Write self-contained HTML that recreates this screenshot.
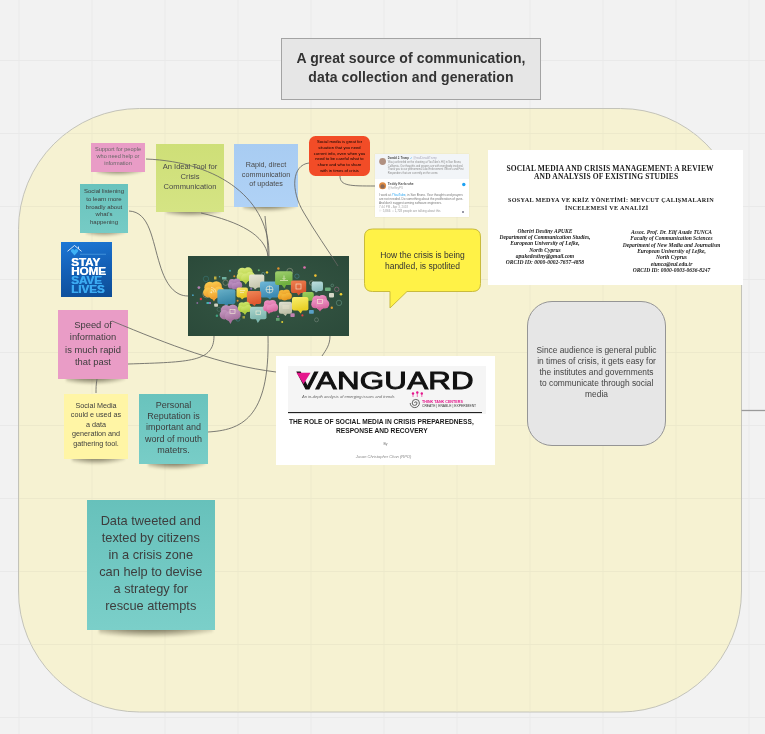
<!DOCTYPE html>
<html><head><meta charset="utf-8">
<style>
*{margin:0;padding:0;box-sizing:border-box}
html,body{width:765px;height:734px;overflow:hidden;background:#f2f2f2;font-family:"Liberation Sans",sans-serif}
body{will-change:transform}
.abs{position:absolute}
</style></head><body>
<svg class="abs" style="left:0;top:0" width="765" height="734">
  <defs>
    <pattern id="g" x="18.5" y="60" width="73" height="73" patternUnits="userSpaceOnUse">
      <rect x="-0.5" y="0" width="1.3" height="73" fill="#e8e8e8"/>
      <rect x="0" y="-0.5" width="73" height="1.3" fill="#e8e8e8"/>
    </pattern>
    <pattern id="gy" x="18.5" y="60" width="73" height="73" patternUnits="userSpaceOnUse">
      <rect x="-0.5" y="0" width="1.3" height="73" fill="#ebe8c9"/>
      <rect x="0" y="-0.5" width="73" height="1.3" fill="#ebe8c9"/>
    </pattern>
  </defs>
  <rect width="765" height="734" fill="url(#g)"/>
  <rect x="18.5" y="108.5" width="723" height="603.5" rx="121" ry="121" fill="#f6f2d2" stroke="#bdbdb4" stroke-width="0.9"/>
  <rect x="19" y="109" width="722" height="602.5" rx="120" ry="120" fill="url(#gy)"/>
  <line x1="741.5" y1="410.5" x2="765" y2="410.5" stroke="#9a9a9a" stroke-width="1.3"/>
</svg>

<div class="abs" style="left:281px;top:38px;width:260px;height:62px;background:#e6e6e6;border:1px solid #a3a3a3;display:flex;align-items:center;justify-content:center;text-align:center;font-weight:bold;font-size:14px;letter-spacing:0.1px;line-height:19px;color:#333"><div style="position:relative;top:-1px">A great source of communication,<br>data collection and generation</div></div>
<div class="abs" style="left:97px;top:167px;width:46px;height:9px;background:radial-gradient(ellipse 70% 100% at 45% 0%,rgba(40,35,15,0.75),rgba(40,35,15,0.44999999999999996) 50%,rgba(40,35,15,0) 100%);filter:blur(1.3px)"></div><div class="abs" style="left:91px;top:143px;width:54px;height:29px;background:#e99cc6;display:flex;align-items:center;justify-content:center;text-align:center;color:#666;font-size:5.6px;line-height:7.3px"><div style="position:relative;top:-1px">Support for people<br>who need help or<br>information</div></div>
<div class="abs" style="left:86px;top:228px;width:40px;height:9px;background:radial-gradient(ellipse 70% 100% at 45% 0%,rgba(40,35,15,0.7),rgba(40,35,15,0.42) 50%,rgba(40,35,15,0) 100%);filter:blur(1.3px)"></div><div class="abs" style="left:80px;top:184px;width:48px;height:49px;background:linear-gradient(180deg,#69c3bd,#76cbc5);display:flex;align-items:center;justify-content:center;text-align:center;color:#3d3d3d;font-size:6px;line-height:7.7px"><div style="position:relative;top:-1px">Social listening<br>to learn more<br>broadly about<br>what's<br>happening</div></div>
<div class="abs" style="left:166px;top:207px;width:55px;height:10px;background:radial-gradient(ellipse 70% 100% at 45% 0%,rgba(40,35,15,0.8),rgba(40,35,15,0.48) 50%,rgba(40,35,15,0) 100%);filter:blur(1.3px)"></div><div class="abs" style="left:156px;top:144px;width:68px;height:68px;background:linear-gradient(180deg,#cedf77,#d5e484);display:flex;align-items:center;justify-content:center;text-align:center;color:#4a4a4a;font-size:7.6px;line-height:10px"><div style="position:relative;top:-1.5px">An Ideal Tool for<br>Crisis<br>Communication</div></div>
<div class="abs" style="left:243px;top:202px;width:53px;height:10px;background:radial-gradient(ellipse 70% 100% at 45% 0%,rgba(40,35,15,0.8),rgba(40,35,15,0.48) 50%,rgba(40,35,15,0) 100%);filter:blur(1.3px)"></div><div class="abs" style="left:234px;top:144px;width:64px;height:63px;background:linear-gradient(180deg,#a8ccf2,#b0d2f6);display:flex;align-items:center;justify-content:center;text-align:center;color:#4a4a4a;font-size:7.2px;line-height:9.5px"><div style="position:relative;top:-1px">Rapid, direct<br>communication<br>of updates</div></div>
<div class="abs" style="left:66px;top:374px;width:59px;height:11px;background:radial-gradient(ellipse 70% 100% at 45% 0%,rgba(40,35,15,0.8),rgba(40,35,15,0.48) 50%,rgba(40,35,15,0) 100%);filter:blur(1.3px)"></div><div class="abs" style="left:58px;top:310px;width:70px;height:69px;background:#e99cc6;display:flex;align-items:center;justify-content:center;text-align:center;color:#3d3d3d;font-size:9.4px;line-height:12.4px"><div style="position:relative;top:-1px">Speed of<br>information<br>is much rapid<br>that past</div></div>
<div class="abs" style="left:72px;top:454px;width:53px;height:11px;background:radial-gradient(ellipse 70% 100% at 45% 0%,rgba(40,35,15,0.75),rgba(40,35,15,0.44999999999999996) 50%,rgba(40,35,15,0) 100%);filter:blur(1.3px)"></div><div class="abs" style="left:64px;top:394px;width:64px;height:65px;background:#fff5a5;display:flex;align-items:center;justify-content:center;text-align:center;color:#3d3d3d;font-size:7.2px;line-height:9.6px"><div style="position:relative;top:-2px">Social Media<br>could e used as<br>a data<br>generation and<br>gathering tool.</div></div>
<div class="abs" style="left:148px;top:459px;width:57px;height:11px;background:radial-gradient(ellipse 70% 100% at 45% 0%,rgba(40,35,15,0.8),rgba(40,35,15,0.48) 50%,rgba(40,35,15,0) 100%);filter:blur(1.3px)"></div><div class="abs" style="left:139px;top:394px;width:69px;height:70px;background:linear-gradient(180deg,#69c3bd,#78cdc7);display:flex;align-items:center;justify-content:center;text-align:center;color:#3d3d3d;font-size:9px;line-height:11.2px"><div style="position:relative;top:-1px">Personal<br>Reputation is<br>important and<br>word of mouth<br>matetrs.</div></div>
<div class="abs" style="left:98.8px;top:625px;width:114px;height:13px;background:radial-gradient(ellipse 70% 100% at 45% 0%,rgba(40,35,15,0.75),rgba(40,35,15,0.44999999999999996) 50%,rgba(40,35,15,0) 100%);filter:blur(1.3px)"></div><div class="abs" style="left:86.8px;top:500px;width:128px;height:130px;background:linear-gradient(180deg,#67c1bb,#7bcfc9);display:flex;align-items:center;justify-content:center;text-align:center;color:#3d3d3d;font-size:12.8px;line-height:17px"><div style="position:relative;top:-2.5px">Data tweeted and<br>texted by citizens<br>in a crisis zone<br>can help to devise<br>a strategy for<br>rescue attempts</div></div>
<div class="abs" style="left:309px;top:136px;width:61px;height:39.5px;background:#f24c27;border-radius:6.5px;font-size:4.1px;line-height:5.8px;text-align:center;color:#000;padding-top:3px;letter-spacing:0.05px">Social media is great for<br>situation that you need<br>current info, even when you<br>need to be careful what to<br>share and who to share<br>with in times of crisis</div>
<!-- callout -->
<svg class="abs" style="left:0;top:0" width="765" height="734">
  <path d="M372.5,229 H472.5 Q480.5,229 480.5,237 V283.5 Q480.5,291.5 472.5,291.5 H407 L390,308 V291.5 H372.5 Q364.5,291.5 364.5,283.5 V237 Q364.5,229 372.5,229 Z" fill="#fff247" stroke="#c9bb3c" stroke-width="1"/>
</svg>
<div class="abs" style="left:364px;top:229px;width:117px;height:63px;display:flex;align-items:center;justify-content:center;text-align:center;font-size:8.5px;line-height:10.8px;color:#333">How the crisis is being<br>handled, is spotlited</div>

<!-- gray rounded -->
<div class="abs" style="left:527px;top:301px;width:139px;height:145px;background:#e6e6e6;border:1px solid #959595;border-radius:25px;display:flex;align-items:center;justify-content:center;text-align:center;font-size:8.4px;line-height:11.1px;color:#444;padding-bottom:2px">Since audience is general public<br>in times of crisis, it gets easy for<br>the institutes and governments<br>to communicate through social<br>media</div>



<!-- central image -->
<svg class="abs" style="left:188px;top:256px" width="161" height="80" viewBox="0 0 161 80">
  <defs>
    <radialGradient id="cg" cx="50%" cy="50%" r="70%">
      <stop offset="0" stop-color="#365744"/><stop offset="1" stop-color="#2b4a3a"/>
    </radialGradient>
    <filter id="bl"><feGaussianBlur stdDeviation="0.3"/></filter><filter id="bl2"><feGaussianBlur stdDeviation="0.3"/></filter>
    <linearGradient id="c490_109" x1="0" y1="0" x2="0.3" y2="1"><stop offset="0" stop-color="#dcec80"/><stop offset="1" stop-color="#b8d448"/></linearGradient><linearGradient id="g610_185" x1="0" y1="0" x2="0.3" y2="1"><stop offset="0" stop-color="#e8e8d8"/><stop offset="1" stop-color="#c8c8b0"/></linearGradient><linearGradient id="c398_223" x1="0" y1="0" x2="0.3" y2="1"><stop offset="0" stop-color="#c094c4"/><stop offset="1" stop-color="#a070a6"/></linearGradient><linearGradient id="c158_248" x1="0" y1="0" x2="0.3" y2="1"><stop offset="0" stop-color="#fcd050"/><stop offset="1" stop-color="#f0a030"/></linearGradient><linearGradient id="g720_256" x1="0" y1="0" x2="0.3" y2="1"><stop offset="0" stop-color="#70b8d8"/><stop offset="1" stop-color="#3e8cb4"/></linearGradient><linearGradient id="g294_332" x1="0" y1="0" x2="0.3" y2="1"><stop offset="0" stop-color="#68b0c8"/><stop offset="1" stop-color="#3a88a8"/></linearGradient><linearGradient id="g485_316" x1="0" y1="0" x2="0.3" y2="1"><stop offset="0" stop-color="#f8e868"/><stop offset="1" stop-color="#e8c828"/></linearGradient><linearGradient id="g589_350" x1="0" y1="0" x2="0.3" y2="1"><stop offset="0" stop-color="#f08858"/><stop offset="1" stop-color="#e05a30"/></linearGradient><linearGradient id="c496_456" x1="0" y1="0" x2="0.3" y2="1"><stop offset="0" stop-color="#d0e870"/><stop offset="1" stop-color="#b0d040"/></linearGradient><linearGradient id="c316_480" x1="0" y1="0" x2="0.3" y2="1"><stop offset="0" stop-color="#c89cc4"/><stop offset="1" stop-color="#a6729e"/></linearGradient><linearGradient id="g620_507" x1="0" y1="0" x2="0.3" y2="1"><stop offset="0" stop-color="#b0d8d0"/><stop offset="1" stop-color="#80b8b0"/></linearGradient><linearGradient id="g871_153" x1="0" y1="0" x2="0.3" y2="1"><stop offset="0" stop-color="#a0d070"/><stop offset="1" stop-color="#70b040"/></linearGradient><linearGradient id="g1029_245" x1="0" y1="0" x2="0.3" y2="1"><stop offset="0" stop-color="#f08050"/><stop offset="1" stop-color="#d85830"/></linearGradient><linearGradient id="g1236_256" x1="0" y1="0" x2="0.3" y2="1"><stop offset="0" stop-color="#c0e0e0"/><stop offset="1" stop-color="#90c0c0"/></linearGradient><linearGradient id="c898_333" x1="0" y1="0" x2="0.3" y2="1"><stop offset="0" stop-color="#f8c040"/><stop offset="1" stop-color="#e89820"/></linearGradient><linearGradient id="g1144_360" x1="0" y1="0" x2="0.3" y2="1"><stop offset="0" stop-color="#a0d060"/><stop offset="1" stop-color="#78b840"/></linearGradient><linearGradient id="g1040_409" x1="0" y1="0" x2="0.3" y2="1"><stop offset="0" stop-color="#f8f070"/><stop offset="1" stop-color="#e8d028"/></linearGradient><linearGradient id="c755_436" x1="0" y1="0" x2="0.3" y2="1"><stop offset="0" stop-color="#f098c8"/><stop offset="1" stop-color="#d86aa0"/></linearGradient><linearGradient id="g909_458" x1="0" y1="0" x2="0.3" y2="1"><stop offset="0" stop-color="#e0e0d0"/><stop offset="1" stop-color="#c0c0a8"/></linearGradient><linearGradient id="c1236_387" x1="0" y1="0" x2="0.3" y2="1"><stop offset="0" stop-color="#f098c8"/><stop offset="1" stop-color="#d868a0"/></linearGradient>
  </defs>
  <rect width="161" height="80" fill="url(#cg)"/>
  <g filter="url(#bl)">
  
<circle cx="116.5" cy="11.5" r="1.3" fill="#e070b0"/>
<circle cx="127.4" cy="19.6" r="1.3" fill="#f0c030"/>
<circle cx="153" cy="38.2" r="1.3" fill="#f0d030"/>
<circle cx="94.2" cy="66" r="1" fill="#e0d030"/>
<circle cx="90.4" cy="12.5" r="1.2" fill="#e09030"/>
<circle cx="143.8" cy="51.8" r="1.2" fill="#e0a030"/>
<rect x="137" y="31.6" width="5.7" height="3.4" rx=".8" fill="#70b080"/>
<rect x="141" y="37" width="5" height="4.4" rx=".8" fill="#d8d8c8"/>
<rect x="121" y="54" width="4.8" height="3.8" rx=".8" fill="#5aa0c8"/>
<rect x="102.4" y="57.2" width="4.3" height="3.8" rx=".8" fill="#c080b0"/>
<circle cx="114.4" cy="59.4" r="1.1" fill="#e04040"/>
<rect x="88" y="62" width="3.6" height="2.8" fill="#60a070"/>
<circle cx="90" cy="60.5" r="1" fill="#a070a0"/>
<circle cx="131" cy="30" r="1" fill="#80a0a0"/>
<g fill="none" stroke="#6a9a88" stroke-width=".55">
<circle cx="151" cy="46.9" r="2.7"/><circle cx="148.7" cy="33.3" r="2.2" stroke="#b07090"/><circle cx="108.9" cy="20.2" r="2.2" stroke="#4a8a9a"/>
<circle cx="101.8" cy="15.3" r="3" stroke="#a0a090"/><circle cx="128.5" cy="63.8" r="2" stroke="#7a8a80"/><circle cx="144.3" cy="29.4" r="1.3"/>
<circle cx="123.6" cy="27" r="2.2" stroke="#a0a090"/>
<circle cx="18" cy="22.9" r="2.7" stroke="#3a7a7a"/><circle cx="18.5" cy="38" r="3.8" stroke="#a09a80"/><circle cx="37.6" cy="26.7" r="2.7" stroke="#a09a80"/>
<circle cx="31" cy="53.4" r="2" stroke="#5a7a70"/><circle cx="50" cy="63.2" r="2" stroke="#4a8a9a"/><circle cx="75.2" cy="18" r="1.6" stroke="#6a9aa0"/>
</g>
<circle cx="10.9" cy="31.6" r="1.4" fill="#b080b0"/>
<circle cx="4.9" cy="39.2" r="0.9" fill="#4aa0c0"/>
<circle cx="12.9" cy="43" r="1.2" fill="#e04040"/>
<circle cx="9.3" cy="47" r="0.9" fill="#8a6a9a"/>
<rect x="18.5" y="46" width="2.5" height="2" fill="#40b0b0"/><rect x="21" y="46" width="2" height="2" fill="#9070c0"/>
<rect x="26.2" y="47.4" width="3.8" height="3.3" rx=".8" fill="#d0d0c0"/>
<rect x="26" y="20.5" width="2.5" height="3" fill="#c0b040"/>
<rect x="34" y="21" width="4.5" height="2.5" fill="#70b0a0"/>
<circle cx="31.6" cy="20.7" r=".8" fill="#50a0b0"/><circle cx="42" cy="14.7" r="1" fill="#40a0a0"/>
<circle cx="46.3" cy="20.2" r="1" fill="#e09030"/><circle cx="70.8" cy="14.2" r="1" fill="#60b070"/>
<circle cx="79" cy="16.4" r="1.2" fill="#f0d030"/><circle cx="63.2" cy="32.7" r="1" fill="#9070c0"/>
<circle cx="49.6" cy="44.7" r="1" fill="#e09030"/><circle cx="28.9" cy="59.7" r="1.2" fill="#40a080"/>
<rect x="54.5" y="60" width="2.5" height="2.5" fill="#a0a040"/>

  <g fill="url(#c490_109)"><ellipse cx="57.9" cy="19.6" rx="7.4" ry="5.7"/><circle cx="54.3" cy="16.4" r="4.7"/><circle cx="60.0" cy="16.0" r="4.7"/><circle cx="52.9" cy="20.7" r="4.3"/><circle cx="62.3" cy="20.4" r="4.7"/><circle cx="57.5" cy="22.0" r="4.4"/></g><path d="M54.8,24.2 L57.8,28.5 L60.3,24.2Z" fill="#b8d448"/><rect x="61" y="18.5" width="15.3" height="13.1" rx="2" fill="url(#g610_185)"/><path d="M65.0,31.1 L67,33.5 L70.0,31.1Z" fill="#c8c8b0"/><g fill="url(#c398_223)"><ellipse cx="47.1" cy="28.6" rx="6.2" ry="4.1"/><circle cx="44.2" cy="26.3" r="3.4"/><circle cx="48.9" cy="26.0" r="3.4"/><circle cx="43.0" cy="29.4" r="3.1"/><circle cx="50.8" cy="29.2" r="3.4"/><circle cx="46.9" cy="30.3" r="3.2"/></g><path d="M47.0,31.299999999999997 L50,35 L52.5,31.299999999999997Z" fill="#a070a6"/><g fill="url(#c158_248)"><ellipse cx="25.9" cy="35.1" rx="8.5" ry="6.8"/><circle cx="21.9" cy="31.4" r="5.6"/><circle cx="28.3" cy="30.8" r="5.6"/><circle cx="20.2" cy="36.5" r="5.1"/><circle cx="30.9" cy="36.1" r="5.6"/><circle cx="25.5" cy="38.0" r="5.3"/></g><path d="M23.0,41.1 L26,45.5 L28.5,41.1Z" fill="#f0a030"/><rect x="72" y="25.6" width="19.0" height="15.8" rx="2" fill="url(#g720_256)"/><path d="M79.0,40.9 L82,43.5 L84.0,40.9Z" fill="#3e8cb4"/><rect x="29.4" y="33.2" width="18.0" height="14.8" rx="2" fill="url(#g294_332)"/><path d="M35.7,47.5 L38.7,50.5 L40.7,47.5Z" fill="#3a88a8"/><rect x="48.5" y="31.6" width="11.5" height="9.8" rx="2" fill="url(#g485_316)"/><path d="M52.0,40.9 L54,43.5 L57.0,40.9Z" fill="#e8c828"/><rect x="58.9" y="35" width="14.3" height="13.0" rx="2" fill="url(#g589_350)"/><path d="M63.5,47.5 L66.5,50 L68.5,47.5Z" fill="#e05a30"/><g fill="url(#c496_456)"><ellipse cx="56.7" cy="52.0" rx="6.0" ry="4.2"/><circle cx="53.9" cy="49.7" r="3.5"/><circle cx="58.4" cy="49.3" r="3.5"/><circle cx="52.7" cy="52.8" r="3.1"/><circle cx="60.2" cy="52.6" r="3.5"/><circle cx="56.4" cy="53.7" r="3.2"/></g><path d="M54.0,54.7 L57,59 L59.5,54.7Z" fill="#b0d040"/><g fill="url(#c316_480)"><ellipse cx="42.2" cy="57.6" rx="8.9" ry="6.3"/><circle cx="38.0" cy="54.1" r="5.2"/><circle cx="44.8" cy="53.6" r="5.2"/><circle cx="36.3" cy="58.8" r="4.7"/><circle cx="47.6" cy="58.4" r="5.2"/><circle cx="41.8" cy="60.2" r="4.9"/></g><path d="M39.5,62.900000000000006 L42.5,68 L45.0,62.900000000000006Z" fill="#a6729e"/><rect x="62" y="50.7" width="16.5" height="12.5" rx="2" fill="url(#g620_507)"/><path d="M67.8,62.7 L69.8,67 L72.8,62.7Z" fill="#80b8b0"/><rect x="87.1" y="15.3" width="17.4" height="13.6" rx="2" fill="url(#g871_153)"/><path d="M93.4,28.4 L96.4,32.5 L98.4,28.4Z" fill="#70b040"/><rect x="102.9" y="24.5" width="15.3" height="12.5" rx="2" fill="url(#g1029_245)"/><path d="M108.5,36.5 L110.5,39.5 L113.5,36.5Z" fill="#d85830"/><rect x="123.6" y="25.6" width="11.4" height="9.3" rx="2" fill="url(#g1236_256)"/><path d="M126.0,34.4 L128,36.5 L131.0,34.4Z" fill="#90c0c0"/><g fill="url(#c898_333)"><ellipse cx="96.9" cy="39.6" rx="6.0" ry="4.1"/><circle cx="94.1" cy="37.3" r="3.4"/><circle cx="98.6" cy="36.9" r="3.4"/><circle cx="92.9" cy="40.4" r="3.1"/><circle cx="100.5" cy="40.1" r="3.4"/><circle cx="96.6" cy="41.3" r="3.2"/></g><rect x="114.4" y="36" width="11.4" height="8.7" rx="2" fill="url(#g1144_360)"/><rect x="104" y="40.9" width="16.4" height="13.6" rx="2" fill="url(#g1040_409)"/><path d="M109.7,54.0 L112.7,57.5 L114.7,54.0Z" fill="#e8d028"/><g fill="url(#c755_436)"><ellipse cx="82.7" cy="50.8" rx="6.0" ry="4.7"/><circle cx="79.8" cy="48.2" r="3.9"/><circle cx="84.4" cy="47.8" r="3.9"/><circle cx="78.6" cy="51.7" r="3.5"/><circle cx="86.2" cy="51.5" r="3.9"/><circle cx="82.4" cy="52.8" r="3.7"/></g><path d="M78.0,54.2 L81,58 L83.5,54.2Z" fill="#d86aa0"/><rect x="90.9" y="45.8" width="13.1" height="12.0" rx="2" fill="url(#g909_458)"/><path d="M94.5,57.3 L97.5,60 L99.5,57.3Z" fill="#c0c0a8"/><g fill="url(#c1236_387)"><ellipse cx="132.3" cy="47.1" rx="7.3" ry="5.5"/><circle cx="128.8" cy="44.1" r="4.6"/><circle cx="134.4" cy="43.6" r="4.6"/><circle cx="127.4" cy="48.2" r="4.1"/><circle cx="136.7" cy="47.9" r="4.6"/><circle cx="132.0" cy="49.4" r="4.3"/></g><path d="M129.0,51.5 L132,55.5 L134.5,51.5Z" fill="#d868a0"/>
  
<g fill="none" stroke="#f8f0d8" stroke-width=".7" opacity=".85">
<path d="M23,31.5 a5,5 0 0,1 5,5 M23,33.5 a3,3 0 0,1 3,3"/><circle cx="23.3" cy="36.3" r=".6" fill="#f8f0d8"/>
<path d="M92,24.5 h8 M96,19.5 v4 l-1.5,-1.5 M96,23.5 l1.5,-1.5"/>
<rect x="108" y="28" width="5" height="5"/>
<rect x="42" y="53.5" width="5" height="4"/>
<rect x="68" y="55" width="4.5" height="3.5"/>
<circle cx="81.5" cy="33.5" r="3.5"/><path d="M78,33.5 h7 M81.5,30 v7"/>
<rect x="129.5" y="43.5" width="5" height="4"/>
<path d="M94.5,50 h7 M94.5,52 h7"/>
<path d="M52,34.5 h5 M52,36.5 h4"/>
</g>

  </g>
</svg>

<!-- stay home -->
<div class="abs" style="left:61px;top:242px;width:51px;height:55px;background:linear-gradient(170deg,#1c78d6 0%,#1461b8 45%,#0d4c94 100%)">
  <svg class="abs" style="left:0;top:0" width="51" height="55">
    <path d="M6.5,9.3 L13.5,3.5 L20.5,9.3 M17.5,6.8 V4.5" fill="none" stroke="#ffffff" stroke-width="0.8"/>
    <path d="M13.5,13.5 L10,9.5 Q9.5,7 12,7 Q13.5,7.5 13.5,8.5 Q13.5,7.5 15,7 Q17.5,7 17,9.5 Z" fill="#3fb2f5"/>
    <rect x="19" y="11.8" width="26" height="0.8" fill="#4a9ae0"/>
  </svg>
  <div class="abs" style="left:9.7px;top:16px;font-weight:bold;font-size:10px;line-height:9px;color:#fff;text-shadow:0.35px 0 0 #fff;transform:scaleX(1.17);transform-origin:0 0;letter-spacing:-0.05px">STAY<br>HOME<br><span style="color:#3cabf2;text-shadow:0.35px 0 0 #3cabf2">SAVE<br>LIVES</span></div>
</div>

<!-- tweet -->
<div class="abs" style="left:375px;top:154px;width:94px;height:63px;background:#fff;box-shadow:0 0 1px rgba(0,0,0,.12);overflow:hidden">
  <div class="abs" style="left:0;top:0;width:94px;height:25px;background:#f2f5f8"></div>
  <svg class="abs" style="left:0;top:0" width="94" height="63">
    <circle cx="7.6" cy="7.5" r="3.4" fill="#b09080"/>
    <circle cx="7.6" cy="31.7" r="3.5" fill="#e08a40"/><circle cx="7.6" cy="32.4" r="2.2" fill="#8a6a58"/>
    <circle cx="88.8" cy="30.5" r="1.7" fill="#1da1f2"/>
    <circle cx="88" cy="58" r="1" fill="#778"/>
  </svg>
  <div class="abs" style="left:12.8px;top:3px;font-size:2.7px;line-height:3.7px;color:#777;white-space:nowrap"><b style="color:#444">Donald J. Trump</b> <span style="color:#1da1f2">✓</span> <span style="color:#aab">@realDonaldTrump</span></div>
  <div class="abs" style="left:12.8px;top:7px;font-size:2.6px;line-height:3.65px;color:#8a8a8a;white-space:nowrap">Was just briefed on the shooting at YouTube's HQ in San Bruno,<br>California. Our thoughts and prayers are with everybody involved.<br>Thank you to our phenomenal Law Enforcement Officers and First<br>Responders that are currently on the scene.</div>
  <div class="abs" style="left:12.8px;top:28.8px;font-size:3.3px;line-height:3.8px;color:#555;white-space:nowrap;font-weight:bold">Teddy Karlsruhe</div>
  <div class="abs" style="left:12.8px;top:32.5px;font-size:3px;line-height:3.5px;color:#aaa;white-space:nowrap">@heffeyPS</div>
  <div class="abs" style="left:4px;top:38.5px;font-size:3.1px;line-height:4.2px;color:#777;white-space:nowrap">I work at <span style="color:#1da1f2">#YouTube</span>, in San Bruno. Your thoughts and prayers<br>are not needed. Do something about the proliferation of guns.<br>And don't suggest arming software engineers.</div>
  <div class="abs" style="left:4px;top:51.5px;font-size:3px;line-height:3.5px;color:#aaa;white-space:nowrap">7:44 PM - Apr 3, 2018</div>
  <div class="abs" style="left:4px;top:56px;font-size:3px;line-height:3.5px;color:#999;white-space:nowrap">♡ 5,866 &nbsp;○ 1,728 people are talking about this</div>
</div>

<!-- paper -->
<div class="abs" style="left:488px;top:150px;width:255px;height:135px;background:#fff;font-family:'Liberation Serif',serif;color:#1a1a1a;white-space:nowrap">
  <div class="abs" style="left:18.4px;top:13.7px;font-weight:bold;font-size:7.5px;line-height:9.6px;letter-spacing:0.16px">SOCIAL MEDIA AND CRISIS MANAGEMENT: A REVIEW</div>
  <div class="abs" style="left:46px;top:22.2px;font-weight:bold;font-size:7.5px;line-height:9.6px;letter-spacing:0.15px">AND ANALYSIS OF EXISTING STUDIES</div>
  <div class="abs" style="left:20px;top:46.3px;font-weight:bold;font-size:6.2px;line-height:7.6px;letter-spacing:0.3px">SOSYAL MEDYA VE KRİZ YÖNETİMİ: MEVCUT ÇALIŞMALARIN</div>
  <div class="abs" style="left:77px;top:53.9px;font-weight:bold;font-size:6.2px;line-height:7.6px;letter-spacing:0.3px">İNCELEMESİ VE ANALİZİ</div>
  <div class="abs" style="left:-3px;top:77.5px;width:120px;text-align:center;font-weight:bold;font-style:italic;font-size:5.55px;line-height:6.35px">Oberiri Destiny APUKE<br>Department of Communication Studies,<br>European University of Lefke,<br>North Cyprus<br>apukedestiny@gmail.com<br>ORCID ID: 0000-0002-7657-4858</div>
  <div class="abs" style="left:123.5px;top:79px;width:120px;text-align:center;font-weight:bold;font-style:italic;font-size:5.5px;line-height:6.35px">Assoc. Prof. Dr. Elif Asude TUNCA<br>Faculty of Communication Sciences<br>Department of New Media and Journalism<br>European University of Lefke,<br>North Cyprus<br>etunca@eul.edu.tr<br>ORCID ID: 0000-0003-0636-8247</div>
</div>

<!-- vanguard -->
<div class="abs" style="left:276px;top:356px;width:219px;height:109px;background:#fff;text-align:center;color:#222">
  <div class="abs" style="left:12px;top:10px;width:198px;height:48px;background:#f5f5f5"></div>
  <div class="abs" style="left:20.5px;top:14.2px;font-size:23.5px;line-height:23.7px;letter-spacing:0.2px;color:#111;-webkit-text-stroke:0.9px #111;transform:scaleX(1.33);transform-origin:0 0;text-align:left;white-space:nowrap">VANGUARD</div>
  <svg class="abs" style="left:0;top:0" width="219" height="109">
    <path d="M20.5,16.7 L34.5,16.7 L27.5,28 Z" fill="#e5168c"/>
    <rect x="12" y="56" width="194" height="1.1" fill="#222"/>
    
    <path d="M139.8,47 m-1.2,0 a1.2,1.2 0 1,1 2.4,0 a2.4,2.4 0 1,1 -4.8,0 a3.6,3.6 0 1,1 7.2,0 a4.6,4.6 0 1,1 -9.2,0" fill="none" stroke="#555" stroke-width="0.9"/>
    <path d="M137,41 v-3 M141.3,41 v-4 M145.8,41 v-3" stroke="#e5168c" stroke-width="0.6"/>
    <circle cx="137" cy="37.5" r="1.2" fill="#e5168c"/><circle cx="141.3" cy="36.5" r="1.2" fill="#e5168c"/><circle cx="145.8" cy="37.5" r="1.2" fill="#e5168c"/>
  </svg>
  <div class="abs" style="left:12.6px;top:61px;font-weight:bold;font-size:7.8px;line-height:9px;color:#1a1a1a;white-space:nowrap;transform:scaleX(0.85);transform-origin:0 0;text-align:left">THE ROLE OF SOCIAL MEDIA IN CRISIS PREPAREDNESS,</div>
  <div class="abs" style="left:59.5px;top:70px;font-weight:bold;font-size:7.8px;line-height:9px;color:#1a1a1a;white-space:nowrap;transform:scaleX(0.85);transform-origin:0 0;text-align:left">RESPONSE AND RECOVERY</div>
  <div class="abs" style="left:26px;top:39px;font-size:3px;line-height:4px;font-style:italic;color:#666;white-space:nowrap;transform:scaleX(1.36);transform-origin:0 0">An in-depth analysis of emerging issues and trends</div>
  <div class="abs" style="left:146px;top:43.6px;font-size:3.1px;line-height:4px;font-weight:bold;color:#e5168c;white-space:nowrap;transform:scaleX(1.19);transform-origin:0 0">THINK TANK CENTERS</div>
  <div class="abs" style="left:146px;top:48.8px;font-size:2.6px;line-height:3px;color:#333;white-space:nowrap;transform:scaleX(1.3);transform-origin:0 0">CREATE | ENABLE | EXPERIMENT</div>
  <div class="abs" style="left:0;top:86px;width:219px;font-size:3.5px;color:#777">By</div>
  <div class="abs" style="left:-2px;top:97.5px;width:219px;font-size:4px;font-style:italic;color:#888">Jason Christopher Chan (RPO)</div>
</div>

<!-- connectors -->
<svg class="abs" style="left:0;top:0;z-index:5" width="765" height="734" fill="none" stroke="#666662" stroke-width="0.85">
  <path d="M146,159 C220,162 270,200 269,256"/>
  <path d="M201,213 C240,222 265,235 268,256"/>
  <path d="M265,216 C266,230 268,240 268,256"/>
  <path d="M309,163 C292,165 290,190 304,213 C315,232 328,250 338,266"/>
  <path d="M340,176 C340,186 350,186 375,186"/>
  <path d="M129,211 C150,212 152,240 160,265 C166,285 175,296 188,296"/>
  <path d="M112,321 C170,345 220,365 276,372"/>
  <path d="M214,336 C214,362 190,362 128,364"/>
  <path d="M268,336 C270,420 240,430 208,432"/>
  <path d="M330,336 C330,345 326,350 322,356"/>
  <path d="M97,379 C96,385 96,388 96,393"/>
</svg>

</body></html>
